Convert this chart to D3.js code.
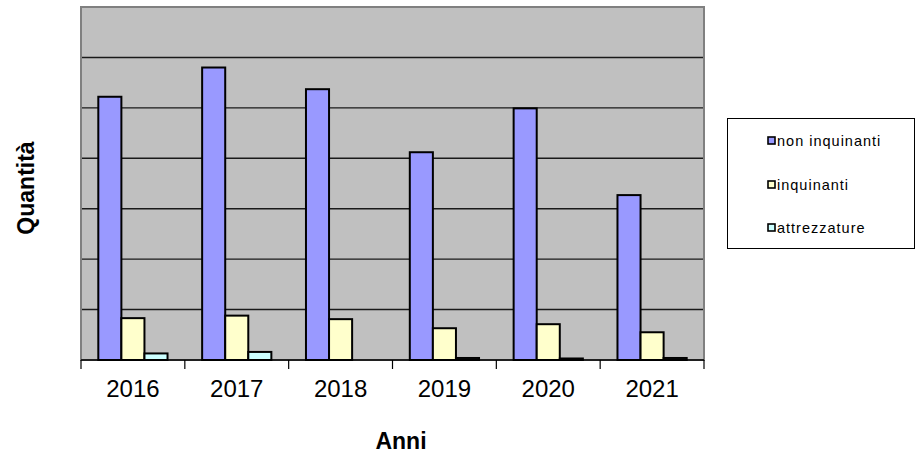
<!DOCTYPE html>
<html>
<head>
<meta charset="utf-8">
<title>Quantità per anno</title>
<script src="https://d3js.org/d3.v7.min.js"></script>
<style>
body { margin: 0; background: #fff; }
svg { display: block; font-family: "Liberation Sans", Arial, sans-serif; }
</style>
</head>
<body>
<div id="chart"></div>
<script>
// values (no y labels shown, unit is arbitrary)
const years = ["2016", "2017", "2018", "2019", "2020", "2021"];
const seriesNames = ["non inquinanti", "inquinanti", "attrezzature"];
const nonInquinanti = [522, 580, 537, 412, 499, 327];
const inquinanti = [83, 88, 81, 63, 71, 55];
const attrezzature = [13, 16, 0, 4, 3, 4];
const colors = ["#9999ff", "#ffffcc", "#ccffff"];
const yTicks = [100, 200, 300, 400, 500, 600];

const width = 917, height = 457;
const plot = {left: 81, right: 704, top: 7, bottom: 360};

const svg = d3.select("#chart").append("svg")
    .attr("width", width)
    .attr("height", height);

const x = d3.scaleBand()
    .domain(years)
    .range([plot.left, plot.right]);

// gap width 150% -> 3 bars + 1.5 bar of gap per band
const inner = d3.scaleBand()
    .domain(seriesNames)
    .range([0, x.bandwidth()])
    .paddingOuter(0.75)
    .paddingInner(0);

const y = d3.scaleLinear()
    .domain([0, 700])
    .range([plot.bottom, plot.top]);

// plot area
svg.append("rect")
    .attr("x", plot.left)
    .attr("y", plot.top)
    .attr("width", plot.right - plot.left)
    .attr("height", plot.bottom - plot.top)
    .attr("fill", "#c0c0c0")
    .attr("stroke", "#808080")
    .attr("stroke-width", 2);

svg.append("g")
    .selectAll("line")
    .data(yTicks)
    .join("line")
    .attr("x1", plot.left + 1)
    .attr("x2", plot.right - 1)
    .attr("y1", d => y(d))
    .attr("y2", d => y(d))
    .attr("stroke", "#1a1a1a")
    .attr("stroke-width", 1.4);

const data = years.map((yr, i) => ({
  year: yr,
  values: [nonInquinanti[i], inquinanti[i], attrezzature[i]]
}));

const groups = svg.append("g")
    .selectAll("g")
    .data(data)
    .join("g")
    .attr("transform", d => `translate(${x(d.year)},0)`);

groups.selectAll("rect")
    .data(d => d.values.map((v, k) => ({name: seriesNames[k], value: v, k: k})).filter(e => e.value > 0))
    .join("rect")
    .attr("x", d => inner(d.name))
    .attr("y", d => y(d.value))
    .attr("width", inner.bandwidth())
    .attr("height", d => y(0) - y(d.value))
    .attr("fill", d => colors[d.k])
    .attr("stroke", "#000")
    .attr("stroke-width", 2);

// x axis
const xAxis = svg.append("g")
    .attr("transform", `translate(0,${plot.bottom})`);

xAxis.append("line")
    .attr("x1", plot.left)
    .attr("x2", plot.right)
    .attr("stroke", "#000")
    .attr("stroke-width", 1.5);

const tickPos = years.map(d => x(d)).concat([plot.right]);
xAxis.selectAll("line.tick")
    .data(tickPos)
    .join("line")
    .attr("class", "tick")
    .attr("x1", d => d)
    .attr("x2", d => d)
    .attr("y1", 0)
    .attr("y2", 9)
    .attr("stroke", "#000")
    .attr("stroke-width", 1.2);

xAxis.selectAll("text")
    .data(years)
    .join("text")
    .attr("x", d => x(d) + x.bandwidth() / 2)
    .attr("y", 37)
    .attr("text-anchor", "middle")
    .attr("font-size", 24)
    .attr("fill", "#000")
    .text(d => d);

// axis titles
svg.append("text")
    .attr("x", 401)
    .attr("y", 449)
    .attr("text-anchor", "middle")
    .attr("font-size", 23)
    .attr("font-weight", "bold")
    .text("Anni");

svg.append("text")
    .attr("transform", "translate(34,188) rotate(-90)")
    .attr("text-anchor", "middle")
    .attr("font-size", 23)
    .attr("font-weight", "bold")
    .text("Quantità");

// legend
const legend = svg.append("g");
legend.append("rect")
    .attr("x", 727.5)
    .attr("y", 118.5)
    .attr("width", 187)
    .attr("height", 130)
    .attr("fill", "#fff")
    .attr("stroke", "#000")
    .attr("stroke-width", 1);

const legendY = [141, 185, 228];
const item = legend.selectAll("g")
    .data(seriesNames)
    .join("g")
    .attr("transform", (d, i) => `translate(768,${legendY[i]})`);

item.append("rect")
    .attr("x", 0)
    .attr("y", -4)
    .attr("width", 7)
    .attr("height", 7)
    .attr("fill", (d, i) => colors[i])
    .attr("stroke", "#000")
    .attr("stroke-width", 1.6);

item.append("text")
    .attr("x", 9)
    .attr("y", 5)
    .attr("font-size", 14.5)
    .attr("letter-spacing", 1)
    .attr("fill", "#000")
    .text(d => d);
</script>
</body>
</html>
